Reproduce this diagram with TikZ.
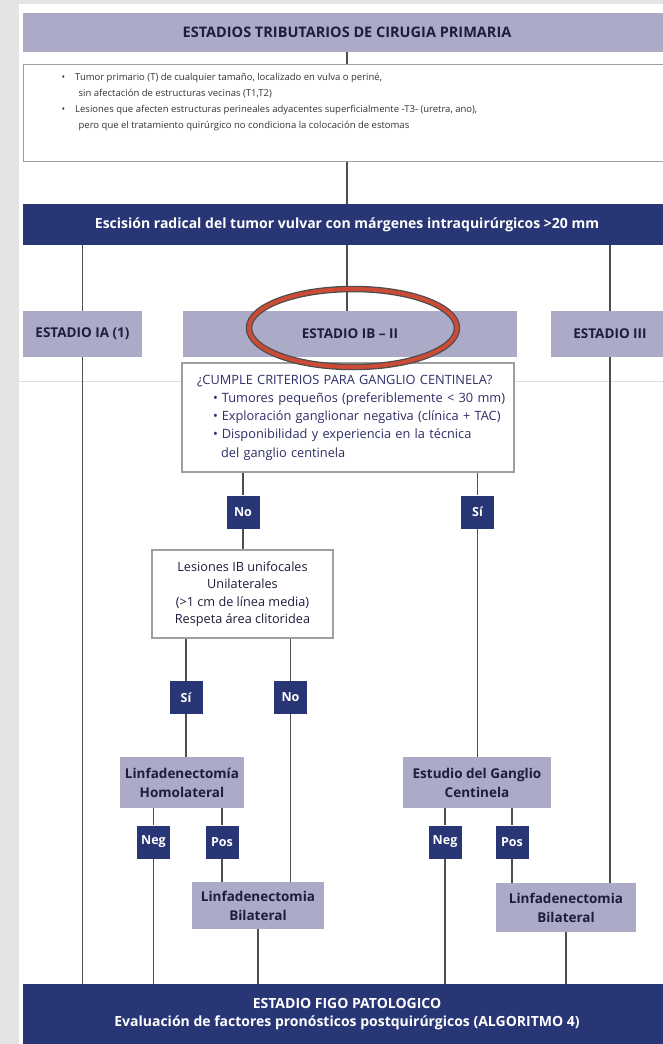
\documentclass[tikz,border=0pt]{standalone}
\usepackage{fontspec}
\setmainfont{Open Sans}

\definecolor{lila}{HTML}{ABABC8}
\definecolor{navy}{HTML}{283676}
\definecolor{inkdark}{HTML}{1E1E3C}
\definecolor{inkblue}{HTML}{2E2E68}
\definecolor{ovalred}{HTML}{CC4B37}
\definecolor{wire}{HTML}{4E4E4E}
\definecolor{paper}{HTML}{E4E4E4}

\begin{document}
\begin{tikzpicture}[x=1pt,y=-1pt,
		lilabox/.style={
		% The shape:
		rectangle,
		% The border:
		draw=none,
		% The filling:
		fill=lila,
		% Font
		font=\bfseries\fontsize{13.5}{19}\selectfont,
		text=inkdark,
		align=center,
		inner sep=0pt
		},
		navybox/.style={
		rectangle,
		fill=navy,
		font=\bfseries\fontsize{14}{18}\selectfont,
		text=white,
		align=center,
		inner sep=0pt
		},
		tagbox/.style={
		rectangle,
		fill=navy,
		minimum width=33pt,
		minimum height=33pt,
		font=\bfseries\fontsize{12.5}{14}\selectfont,
		text=white,
		inner sep=0pt
		},
		framebox/.style={
		rectangle,
		draw=gray!75,
		line width=1.3pt,
		fill=white,
		text=inkblue,
		inner sep=0pt
		},
		wire/.style={
		draw=wire,
		line width=1.3pt
		}
	]
	% page and margins
	\useasboundingbox (0,0) rectangle (663,1044);
	\fill[paper] (0,0) rectangle (663,1044);
	\fill[white] (19,4) rectangle (663,1044);

	\node (TIT)[lilabox, minimum width=648pt, minimum height=39pt, font=\bfseries\fontsize{14.5}{15}\selectfont] at (347,32.5) {ESTADIOS TRIBUTARIOS DE CIRUGIA PRIMARIA};

	\node (CRIT)[framebox, anchor=north west, text=black!80, font=\fontsize{9.5}{16}\selectfont] at (23,64)
		{\parbox[t][97pt][t]{648pt}{\vspace*{9pt}%
		 \hspace*{38pt}\textbullet\hspace{10pt}Tumor primario (T) de cualquier tamaño, localizado en vulva o periné,\\
		 \hspace*{55pt}sin afectación de estructuras vecinas (T1,T2)\\
		 \hspace*{38pt}\textbullet\hspace{10pt}Lesiones que afecten estructuras perineales adyacentes superficialmente -T3- (uretra, ano),\\
		 \hspace*{55pt}pero que el tratamiento quirúrgico no condiciona la colocación de estomas}};

	\node (EXC)[navybox, minimum width=648pt, minimum height=41pt] at (347,224.5) {Escisión radical del tumor vulvar con márgenes intraquirúrgicos >20 mm};

	\node (IA)[lilabox, minimum width=119pt, minimum height=46pt] at (82.5,334) {ESTADIO IA (1)};
	\node (IB)[lilabox, minimum width=334pt, minimum height=46pt] at (350,334) {ESTADIO IB -- II};
	\node (III)[lilabox, minimum width=118pt, minimum height=46pt] at (610,334) {ESTADIO III};

	% faint scan line across the page
	\draw[gray!25, line width=0.8pt] (0,381) -- (663,381);

	\node (GC)[framebox, minimum width=332pt, minimum height=109pt, text width=330pt, align=left,
		font=\fontsize{12.8}{18.2}\selectfont] at (348,417.5)
		{\hspace*{14pt}¿CUMPLE CRITERIOS PARA GANGLIO CENTINELA?\\
		 \hspace*{30pt}\textbullet\hspace{4pt}Tumores pequeños (preferiblemente < 30 mm)\\
		 \hspace*{30pt}\textbullet\hspace{4pt}Exploración ganglionar negativa (clínica + TAC)\\
		 \hspace*{30pt}\textbullet\hspace{4pt}Disponibilidad y experiencia en la técnica\\
		 \hspace*{38pt}del ganglio centinela};

	\node (NO1)[tagbox] at (243,512) {No};
	\node (SI1)[tagbox] at (477.5,512) {Sí};

	\node (LES)[framebox, minimum width=181pt, minimum height=88pt, align=center, text=inkdark,
		font=\fontsize{12.7}{17.5}\selectfont] at (242.5,594)
		{Lesiones IB unifocales\\Unilaterales\\(>1 cm de línea media)\\Respeta área clitoridea};

	\node (SI2)[tagbox] at (186,697.5) {Sí};
	\node (NO2)[tagbox] at (290.5,697.5) {No};

	\node (HOMO)[lilabox, minimum width=124pt, minimum height=51pt] at (182,782.5) {Linfadenectomía\\Homolateral};
	\node (ESTU)[lilabox, minimum width=148pt, minimum height=51pt] at (477,782.5) {Estudio del Ganglio\\Centinela};

	\node (NEG1)[tagbox] at (153.5,842) {Neg};
	\node (POS1)[tagbox] at (222,842) {Pos};
	\node (NEG2)[tagbox] at (445,842) {Neg};
	\node (POS2)[tagbox] at (512,842) {Pos};

	\node (BILA)[lilabox, minimum width=132pt, minimum height=47pt] at (258,905.5) {Linfadenectomia\\Bilateral};
	\node (DILE)[lilabox, minimum width=140pt, minimum height=49pt] at (566,907.5) {Linfadenectomia\\Bilateral};

	\node (FIGO)[navybox, minimum width=648pt, minimum height=60pt] at (347,1014)
		{ESTADIO FIGO PATOLOGICO\\Evaluación de factores pronósticos postquirúrgicos (ALGORITMO 4)};

	% connectors
	\draw[wire] (TIT) -- (CRIT.north -| TIT);
	\draw[wire] (CRIT.south -| TIT) -- (EXC);
	\draw[wire] (IA.north |- EXC.south) -- (IA.north);
	\draw[wire] (EXC.south) -- (EXC.south |- IB.north);
	\draw[wire] (III.north |- EXC.south) -- (III.north);
	\draw[wire] (IA.south) -- (IA.south |- FIGO.north);
	\draw[wire] (III.south) -- (III.south |- DILE.north);

	\draw[wire] (NO1.north |- GC.south) -- (NO1.north);
	\draw[wire] (SI1.north |- GC.south) -- (SI1.north);
	\draw[wire] (NO1.south) -- (NO1.south |- LES.north);
	\draw[wire] (SI1.south) -- (SI1.south |- ESTU.north);

	\draw[wire] (SI2.north |- LES.south) -- (SI2.north);
	\draw[wire] (NO2.north |- LES.south) -- (NO2.north);
	\draw[wire] (SI2.south) -- (SI2.south |- HOMO.north);
	\draw[wire] (NO2.south) -- (NO2.south |- BILA.north);

	\draw[wire] (NEG1.north |- HOMO.south) -- (NEG1.north);
	\draw[wire] (POS1.north |- HOMO.south) -- (POS1.north);
	\draw[wire] (NEG1.south) -- (NEG1.south |- FIGO.north);
	\draw[wire] (POS1.south) -- (POS1.south |- BILA.north);
	\draw[wire] (BILA.south) -- (BILA.south |- FIGO.north);

	\draw[wire] (NEG2.north |- ESTU.south) -- (NEG2.north);
	\draw[wire] (POS2.north |- ESTU.south) -- (POS2.north);
	\draw[wire] (NEG2.south) -- (NEG2.south |- FIGO.north);
	\draw[wire] (POS2.south) -- (POS2.south |- DILE.north);
	\draw[wire] (DILE.south) -- (DILE.south |- FIGO.north);

	% red ring round the stage IB - II
	\draw[black!70, line width=6.5pt] (353,328) ellipse [x radius=104, y radius=39];
	\draw[ovalred, line width=4pt] (353,328) ellipse [x radius=104, y radius=39];
\end{tikzpicture}
\end{document}
